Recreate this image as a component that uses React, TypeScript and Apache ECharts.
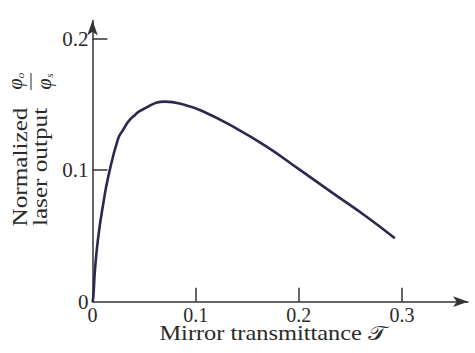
import React, { useEffect, useRef } from "react";
import * as echarts from "echarts";

// Normalized laser output φo/φs versus output mirror transmittance T
const transmittance = [
  0, 0.0008, 0.0024, 0.0056, 0.0105, 0.0153, 0.025, 0.0298, 0.0347, 0.0412,
  0.0477, 0.0703, 0.0896, 0.1058, 0.1364, 0.1688, 0.2011, 0.2333, 0.2657, 0.2931,
];
const output = [
  0, 0.0038, 0.0241, 0.0494, 0.0748, 0.0951, 0.1243, 0.1308, 0.1369, 0.142,
  0.1458, 0.1521, 0.1496, 0.1452, 0.1331, 0.1179, 0.1002, 0.0824, 0.0646, 0.0482,
];

const xTickValues = [0.1, 0.2, 0.3];
const xLabelValues = [0, 0.1, 0.2, 0.3];
const yTickValues = [0.1, 0.2];
const yLabelValues = [0, 0.1, 0.2];

const xTitle = "Mirror transmittance 𝒯";
const yTitleLines = ["Normalized", "laser output"];

const SERIF = "'Liberation Serif', 'DejaVu Serif', serif";
const AXIS_COLOR = "#333333";
const CURVE_COLOR = "#2b2950";
const TEXT_COLOR = "#2a2a2a";

const fmt = (v: number) => (v === 0 ? "0" : v.toFixed(1));

const italic = (text: string, x: number, y: number, fontSize: number) => ({
  type: "text",
  x,
  y,
  style: {
    text,
    fontFamily: SERIF,
    fontStyle: "italic",
    fontSize,
    fill: TEXT_COLOR,
    textAlign: "center",
    textVerticalAlign: "middle",
  },
});

export default function App() {
  const ref = useRef<HTMLDivElement>(null);

  useEffect(() => {
    if (!ref.current) return;
    const chart = echarts.init(ref.current, undefined, { renderer: "svg" });

    const axisLineStyle = { color: AXIS_COLOR, width: 1.5 };

    chart.setOption({
      animation: false,
      backgroundColor: "#ffffff",
      grid: { left: 92.5, right: 7, top: 20.5, bottom: 51.3, containLabel: false },
      xAxis: {
        type: "value",
        min: 0,
        max: 0.364,
        axisLine: {
          show: true,
          onZero: false,
          symbol: ["none", "arrow"],
          symbolSize: [8, 15],
          lineStyle: axisLineStyle,
        },
        axisTick: {
          show: true,
          inside: true,
          length: 14,
          customValues: xTickValues,
          lineStyle: axisLineStyle,
        },
        axisLabel: {
          customValues: xLabelValues,
          formatter: fmt,
          margin: 3,
          color: TEXT_COLOR,
          fontFamily: SERIF,
          fontSize: 20,
        },
        splitLine: { show: false },
      },
      yAxis: {
        type: "value",
        min: 0,
        max: 0.2138,
        axisLine: {
          show: true,
          onZero: false,
          symbol: ["none", "arrow"],
          symbolSize: [8, 15],
          lineStyle: axisLineStyle,
        },
        axisTick: {
          show: true,
          inside: true,
          length: 15,
          customValues: yTickValues,
          lineStyle: axisLineStyle,
        },
        axisLabel: {
          customValues: yLabelValues,
          formatter: fmt,
          margin: 4,
          color: TEXT_COLOR,
          fontFamily: SERIF,
          fontSize: 21,
        },
        splitLine: { show: false },
      },
      series: [
        {
          type: "line",
          data: transmittance.map((t, i) => [t, output[i]]),
          smooth: 0.5,
          showSymbol: false,
          lineStyle: { color: CURVE_COLOR, width: 2.6 },
          z: 3,
        },
      ],
      graphic: [
        {
          type: "text",
          x: 273,
          y: 333,
          scaleX: 1.22,
          style: {
            text: xTitle,
            fontFamily: SERIF,
            fontSize: 20,
            fill: TEXT_COLOR,
            textAlign: "center",
            textVerticalAlign: "middle",
          },
        },
        {
          // rotated y-axis title, reading bottom to top
          type: "group",
          x: 0,
          y: 167,
          rotation: Math.PI / 2,
          children: yTitleLines.map((line, i) => ({
            type: "text",
            x: 0,
            y: i === 0 ? 19.5 : 40,
            scaleX: 1.2,
            style: {
              text: line,
              fontFamily: SERIF,
              fontSize: 21,
              fill: TEXT_COLOR,
              textAlign: "center",
              textVerticalAlign: "middle",
            },
          })),
        },
        {
          // rotated fraction φo / φs
          type: "group",
          x: 0,
          y: 82,
          rotation: Math.PI / 2,
          children: [
            italic("φ", -2, 15, 20),
            italic("o", 6.5, 20, 11),
            {
              type: "line",
              shape: { x1: -8, y1: 31, x2: 9, y2: 31 },
              style: { stroke: TEXT_COLOR, lineWidth: 1 },
            },
            italic("φ", -2, 44, 20),
            italic("s", 6.5, 49, 11),
          ],
        },
      ],
    });

    return () => chart.dispose();
  }, []);

  return (
    <div
      ref={ref}
      style={{ position: "fixed", left: 0, top: 0, width: 475, height: 353, background: "#fff" }}
    />
  );
}
